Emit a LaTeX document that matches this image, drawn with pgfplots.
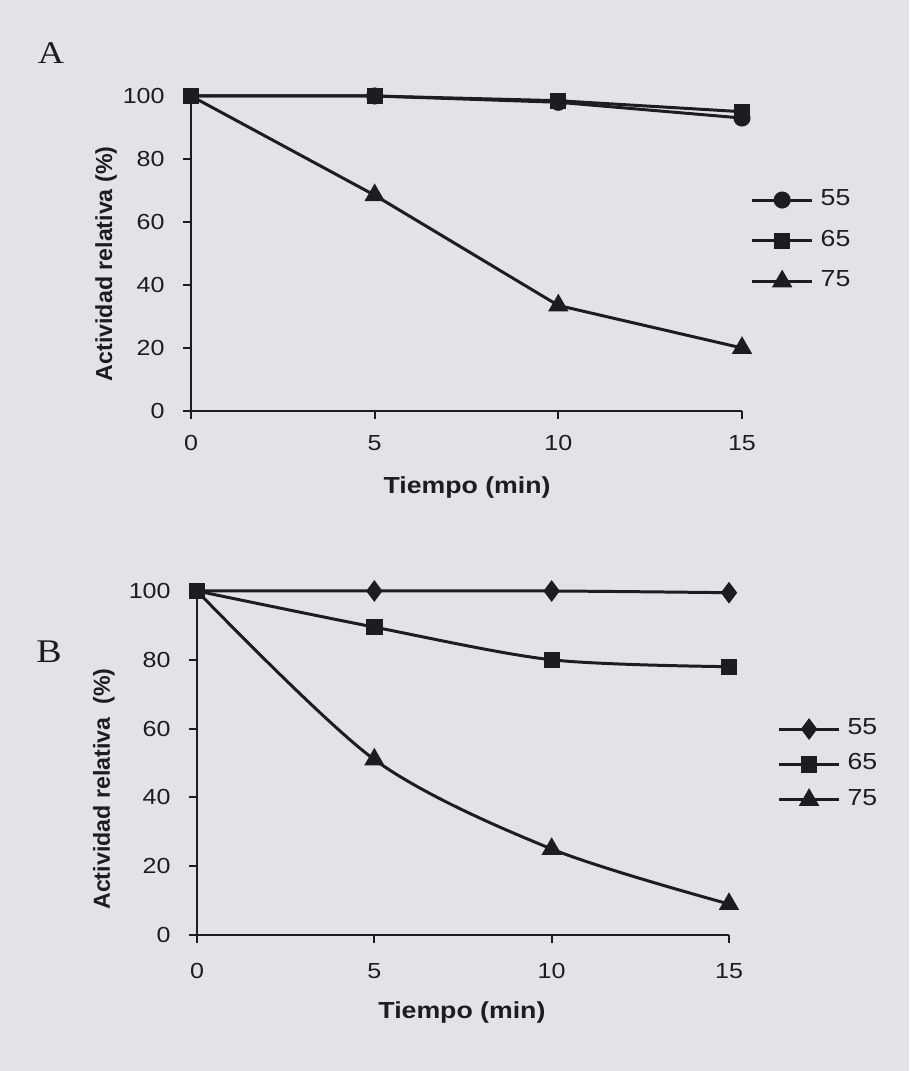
\documentclass[border=0pt]{standalone}
\usepackage{pgfplots}
\pgfplotsset{compat=1.18}
\usepackage{fontspec}
\setmainfont{Liberation Sans}[FakeStretch=1.15]
\newfontfamily\vlabel{Liberation Sans}
\newfontfamily\panelfont{Liberation Serif}[FakeStretch=1.15]

\definecolor{paper}{HTML}{E4E1E9}
\definecolor{ink}{HTML}{1E1C22}

\tikzset{
  axisframe/.style={ink, line width=0.7pt},
  ser/.style={ink, line width=0.85pt, mark options={solid, fill=ink}},
}
\pgfplotsset{
  panel/.style={
    scale only axis,
    axis lines=left,
    axis line style={draw=none},
    xmin=0, xmax=15, ymin=0, ymax=100,
    xtick={0,5,10,15}, ytick={0,20,...,100},
    tick align=outside, major tick length=0.08cm,
    tick style={ink,line width=0.6pt},
    /pgf/number format/assume math mode=true,
    tick label style={font=\fontsize{6.2}{7}\selectfont, text=ink},
    yticklabel style={xshift=-0.06cm},
    label style={font=\fontsize{6.6}{8}\selectfont\bfseries, text=ink},
    clip=false,
    legend style={draw=none, fill=none, inner sep=0pt,
      font=\fontsize{6.6}{8}\selectfont, text=ink},
    legend cell align=left,
  },
}

\begin{document}
\begin{tikzpicture}[x=1cm,y=1cm]
\fill[paper] (0,0) rectangle (9.09,10.71);

% ---- panel A
\node[text=ink, font=\panelfont\fontsize{9}{10}\selectfont] at (0.51,10.18) {A};
\begin{axis}[panel,
  at={(1.91cm,6.60cm)}, width=5.51cm, height=3.15cm,
  xlabel={Tiempo (min)},
  ylabel={\vlabel\bfseries Actividad relativa (\%)},
  x label style={at={(axis description cs:0.501,-0.244)}, anchor=center},
  y label style={at={(axis description cs:-0.154,0.467)}, anchor=center, rotate=0},
  xticklabel style={yshift=-0.04cm},
  legend style={at={(axis description cs:1.0145,0.728)}, anchor=north west, row sep=1.5pt},
]
\addlegendimage{ser, mark=*, mark size=2pt}\addlegendentry{55}
\addlegendimage{ser, mark=square*, mark size=1.85pt}\addlegendentry{65}
\addlegendimage{ser, mark=triangle*, mark size=2.5pt}\addlegendentry{75}
\draw[axisframe] (axis cs:0,100) -- (axis cs:0,0) -- (axis cs:15,0);
\addplot[ser, forget plot, mark=triangle*, mark size=2.5pt, mark indices={2,3,4}] coordinates {(0,100) (5,68.5) (10,33.5) (15,20)};
\addplot[ser, forget plot, mark=*, mark size=2pt, mark indices={2,3,4}] coordinates {(0,100) (5,100) (10,98) (15,93)};
\addplot[ser, forget plot, mark=square*, mark size=1.85pt] coordinates {(0,100) (5,100) (10,98.5) (15,95)};
\end{axis}

% ---- panel B
\node[text=ink, font=\panelfont\fontsize{9.4}{10}\selectfont] at (0.49,4.19) {B};
\begin{axis}[panel,
  at={(1.97cm,1.36cm)}, width=5.32cm, height=3.44cm,
  xlabel={Tiempo (min)},
  ylabel={\vlabel\bfseries Actividad relativa\ \ (\%)},
  x label style={at={(axis description cs:0.498,-0.224)}, anchor=center},
  y label style={at={(axis description cs:-0.175,0.424)}, anchor=center, rotate=0},
  xticklabel style={yshift=-0.08cm},
  legend style={at={(axis description cs:1.09,0.652)}, anchor=north west, row sep=0pt},
]
\addlegendimage{ser, mark=diamond*, mark size=2.4pt}\addlegendentry{55}
\addlegendimage{ser, mark=square*, mark size=1.9pt}\addlegendentry{65}
\addlegendimage{ser, mark=triangle*, mark size=2.5pt}\addlegendentry{75}
\draw[axisframe] (axis cs:0,100) -- (axis cs:0,0) -- (axis cs:15,0);
\addplot[ser, forget plot, smooth, mark=triangle*, mark size=2.5pt, mark indices={2,3,4}] coordinates {(0,100) (5,51) (10,25) (15,9)};
\addplot[ser, forget plot, smooth, mark=diamond*, mark size=2.4pt, mark indices={2,3,4}] coordinates {(0,100) (5,100) (10,100) (15,99.5)};
\addplot[ser, forget plot, smooth, mark=square*, mark size=1.9pt] coordinates {(0,100) (5,89.5) (10,80) (15,78)};
\end{axis}
\end{tikzpicture}
\end{document}
